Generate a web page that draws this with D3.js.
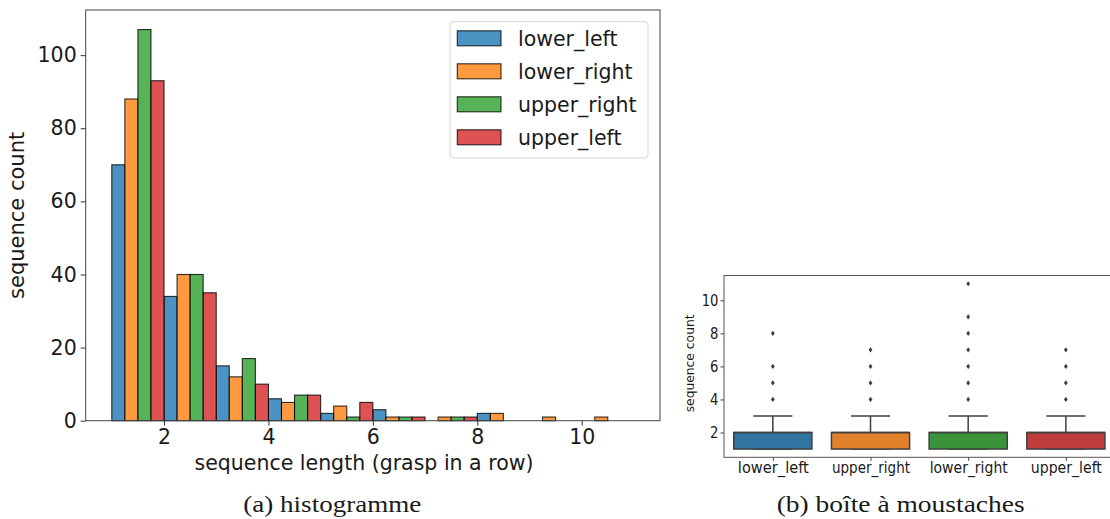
<!DOCTYPE html>
<html>
<head>
<meta charset="utf-8">
<script src="https://cdn.jsdelivr.net/npm/d3@7"></script>
<style>
  html, body { margin: 0; padding: 0; background: #fff; }
  svg { display: block; }
  text { fill: #1a1a1a; }
</style>
</head>
<body>
<svg id="chart" width="1110" height="519" font-family="DejaVu Sans, sans-serif"></svg>
<script>
// ---------- Data: histogram ----------
const binStarts = [1, 2, 3, 4, 5, 6, 7, 8, 9, 10];
const binWidth = 1;
const histSeries = ["lower_left", "lower_right", "upper_right", "upper_left"];
const lowerLeftCounts  = [70, 34, 15, 6, 2, 3, 0, 2, 0, 0];
const lowerRightCounts = [88, 40, 12, 5, 4, 1, 1, 2, 1, 1];
const upperRightCounts = [107, 40, 17, 7, 1, 1, 1, 0, 0, 0];
const upperLeftCounts  = [93, 35, 10, 7, 5, 1, 1, 0, 0, 0];
const histXTicks = [2, 4, 6, 8, 10];
const histYTicks = [0, 20, 40, 60, 80, 100];

// ---------- Data: box plot ----------
const boxCategories = ["lower_left", "upper_right", "lower_right", "upper_left"];
const boxQ1 = [1, 1, 1, 1];
const boxMedian = [2, 2, 2, 2];
const boxQ3 = [2, 2, 2, 2];
const boxWhiskerLow = [1, 1, 1, 1];
const boxWhiskerHigh = [3, 3, 3, 3];
const boxOutliers = [
  [4, 5, 6, 8],
  [4, 5, 6, 7],
  [4, 5, 6, 7, 8, 9, 11],
  [4, 5, 6, 7]
];
const boxYTicks = [2, 4, 6, 8, 10];

// ---------- Styles ----------
const histColors = ["#1f77b4", "#ff7f0e", "#2ca02c", "#d62728"];
const boxColors = ["#3274a1", "#e1812c", "#3a923a", "#c03d3e"];
const histCounts = [lowerLeftCounts, lowerRightCounts, upperRightCounts, upperLeftCounts];

const svg = d3.select("#chart");

// ===================== Histogram =====================
const hx = d3.scaleLinear().domain([0.5, 11.5]).range([85.7, 660]);
const hy = d3.scaleLinear().domain([0, 112.35]).range([420.7, 10]);
const nSeries = histSeries.length;
const subW = binWidth / nSeries;

const hist = svg.append("g");
histSeries.forEach((name, j) => {
  const data = binStarts.map((b, i) => ({ b, v: histCounts[j][i] })).filter(d => d.v > 0);
  hist.append("g").selectAll("rect").data(data).join("rect")
    .attr("x", d => hx(d.b + j * subW))
    .attr("width", d => hx(d.b + (j + 1) * subW) - hx(d.b + j * subW))
    .attr("y", d => hy(d.v))
    .attr("height", d => hy(0) - hy(d.v))
    .attr("fill", histColors[j])
    .attr("fill-opacity", 0.8)
    .attr("stroke", "#000")
    .attr("stroke-opacity", 0.8)
    .attr("stroke-width", 1.1);
});

// spines
hist.append("rect")
  .attr("x", hx.range()[0]).attr("y", hy.range()[1])
  .attr("width", hx.range()[1] - hx.range()[0])
  .attr("height", hy.range()[0] - hy.range()[1])
  .attr("fill", "none").attr("stroke", "#444").attr("stroke-width", 1);

const hxAxis = hist.append("g")
  .attr("transform", `translate(0,${hy.range()[0]})`)
  .call(d3.axisBottom(hx).tickValues(histXTicks).tickSize(5).tickPadding(4).tickFormat(d3.format("d")));
hxAxis.select(".domain").remove();
hxAxis.selectAll("line").attr("stroke", "#333");
hxAxis.selectAll("text").attr("font-size", 20.5).attr("fill", "#1a1a1a").attr("font-family", "DejaVu Sans");

const hyAxis = hist.append("g")
  .attr("transform", `translate(${hx.range()[0]},0)`)
  .call(d3.axisLeft(hy).tickValues(histYTicks).tickSize(5).tickPadding(4).tickFormat(d3.format("d")));
hyAxis.select(".domain").remove();
hyAxis.selectAll("line").attr("stroke", "#333");
hyAxis.selectAll("text").attr("font-size", 20.5).attr("fill", "#1a1a1a").attr("font-family", "DejaVu Sans");

hist.append("text")
  .attr("x", 364).attr("y", 470)
  .attr("text-anchor", "middle").attr("font-size", 20.5)
  .text("sequence length (grasp in a row)");
hist.append("text")
  .attr("transform", `translate(24,${(hy.range()[0] + hy.range()[1]) / 2}) rotate(-90)`)
  .attr("text-anchor", "middle").attr("font-size", 21)
  .text("sequence count");

// legend
const leg = hist.append("g");
leg.append("rect")
  .attr("x", 450).attr("y", 21.7).attr("width", 198).attr("height", 136.3)
  .attr("rx", 3).attr("fill", "#fff").attr("fill-opacity", 0.8)
  .attr("stroke", "#d6d6d6").attr("stroke-width", 1);
const legRowY = d3.scalePoint().domain(histSeries).range([38.3, 137.3]);
histSeries.forEach((name, j) => {
  const cy = legRowY(name);
  leg.append("rect")
    .attr("x", 457.3).attr("y", cy - 7.5).attr("width", 43.7).attr("height", 15)
    .attr("fill", histColors[j]).attr("fill-opacity", 0.8)
    .attr("stroke", "#000").attr("stroke-opacity", 0.8).attr("stroke-width", 1.1);
  leg.append("text")
    .attr("x", 518).attr("y", cy).attr("dy", "0.36em")
    .attr("font-size", 20.5)
    .text(name);
});

// ===================== Box plot =====================
const bx = d3.scalePoint().domain(boxCategories).range([724, 1114.7]).padding(0.5);
const by = d3.scaleLinear().domain([0.5, 11.5]).range([457.3, 275.5]);
const step = bx.step();
const boxW = step * 0.8;
const capW = boxW / 2;
const lineCol = "#3f3f3f";

const box = svg.append("g");
boxCategories.forEach((c, i) => {
  const cx = bx(c);
  box.append("line").attr("x1", cx).attr("x2", cx)
    .attr("y1", by(boxQ3[i])).attr("y2", by(boxWhiskerHigh[i]))
    .attr("stroke", lineCol).attr("stroke-width", 1.5);
  box.append("line").attr("x1", cx).attr("x2", cx)
    .attr("y1", by(boxQ1[i])).attr("y2", by(boxWhiskerLow[i]))
    .attr("stroke", lineCol).attr("stroke-width", 1.5);
  box.append("line").attr("x1", cx - capW / 2).attr("x2", cx + capW / 2)
    .attr("y1", by(boxWhiskerHigh[i])).attr("y2", by(boxWhiskerHigh[i]))
    .attr("stroke", lineCol).attr("stroke-width", 1.5);
  box.append("line").attr("x1", cx - capW / 2).attr("x2", cx + capW / 2)
    .attr("y1", by(boxWhiskerLow[i])).attr("y2", by(boxWhiskerLow[i]))
    .attr("stroke", lineCol).attr("stroke-width", 1.5);
  box.append("rect")
    .attr("x", cx - boxW / 2).attr("width", boxW)
    .attr("y", by(boxQ3[i])).attr("height", by(boxQ1[i]) - by(boxQ3[i]))
    .attr("fill", boxColors[i]).attr("stroke", lineCol).attr("stroke-width", 1.5);
  box.append("line").attr("x1", cx - boxW / 2).attr("x2", cx + boxW / 2)
    .attr("y1", by(boxMedian[i])).attr("y2", by(boxMedian[i]))
    .attr("stroke", lineCol).attr("stroke-width", 1.5);
  box.append("g").selectAll("path").data(boxOutliers[i]).join("path")
    .attr("d", v => {
      const y = by(v);
      return `M${cx},${y - 2.6}L${cx + 1.9},${y}L${cx},${y + 2.6}L${cx - 1.9},${y}Z`;
    })
    .attr("fill", lineCol);
});

box.append("rect")
  .attr("x", bx.range()[0]).attr("y", by.range()[1])
  .attr("width", bx.range()[1] - bx.range()[0])
  .attr("height", by.range()[0] - by.range()[1])
  .attr("fill", "none").attr("stroke", "#555").attr("stroke-width", 1);

const bxAxis = box.append("g")
  .attr("transform", `translate(0,${by.range()[0]})`)
  .call(d3.axisBottom(bx).tickSize(3.5).tickPadding(2));
bxAxis.select(".domain").remove();
bxAxis.selectAll("line").attr("stroke", "#444");
bxAxis.selectAll("text")
  .attr("font-size", 15).attr("fill", "#1a1a1a").attr("font-family", "DejaVu Sans")
  .attr("textLength", d => d.length * 7.1)
  .attr("lengthAdjust", "spacingAndGlyphs");

const byAxis = box.append("g")
  .attr("transform", `translate(${bx.range()[0]},0)`)
  .call(d3.axisLeft(by).tickValues(boxYTicks).tickSize(3.5).tickPadding(2).tickFormat(d3.format("d")));
byAxis.select(".domain").remove();
byAxis.selectAll("line").attr("stroke", "#444");
byAxis.selectAll("text").attr("font-size", 15).attr("fill", "#1a1a1a").attr("font-family", "DejaVu Sans")
  .attr("textLength", d => String(d).length * 8.4)
  .attr("lengthAdjust", "spacingAndGlyphs");

box.append("text")
  .attr("transform", `translate(693.5,${(by.range()[0] + by.range()[1]) / 2 - 3}) rotate(-90)`)
  .attr("text-anchor", "middle").attr("font-size", 12.3)
  .text("sequence count");

// ===================== Captions =====================
svg.append("text")
  .attr("x", 243.3).attr("y", 511.5)
  .style("font-family", "'Liberation Serif', 'DejaVu Serif', serif").attr("font-size", 23)
  .attr("textLength", 178).attr("lengthAdjust", "spacingAndGlyphs")
  .text("(a) histogramme");
svg.append("text")
  .attr("x", 776.7).attr("y", 511.5)
  .style("font-family", "'Liberation Serif', 'DejaVu Serif', serif").attr("font-size", 23)
  .attr("textLength", 248).attr("lengthAdjust", "spacingAndGlyphs")
  .text("(b) boîte à moustaches");
</script>
</body>
</html>
